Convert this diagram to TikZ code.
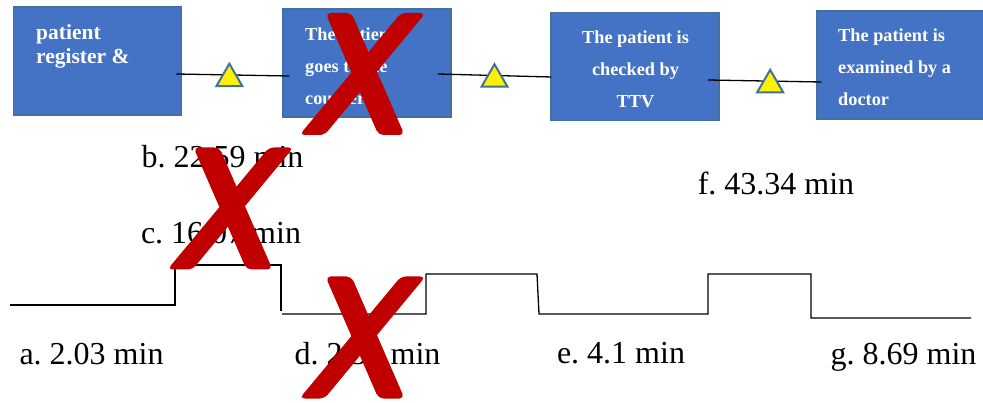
\documentclass[tikz,border=0pt]{standalone}
\usepackage{fontspec}
\setmainfont{Liberation Serif}
\usetikzlibrary{shapes.geometric}
\definecolor{boxblue}{HTML}{4472C4}
\definecolor{boxline}{HTML}{41719C}
\definecolor{xred}{HTML}{C00000}
\tikzset{
  box/.style={draw=boxline, line width=1.5pt, fill=boxblue, minimum width=168pt, minimum height=108pt, inner sep=0pt},
  boxtxt/.style={text=white, font=\fontsize{18.3}{32}\selectfont\bfseries, inner sep=0pt},
  link/.style={line width=1.3pt},
  tri/.style={regular polygon, regular polygon sides=3, draw=boxline, line width=2pt, fill=yellow, minimum size=30pt, inner sep=0pt, yshift=-3.75pt},
  stepline/.style={line width=1.3pt},
  lbl/.style={font=\fontsize{32}{38}\selectfont, inner sep=0pt, anchor=base},
}
\newcommand{\redcross}[2]{%
  \fill[xred, rounded corners=5pt, shift={(#1,#2)}] (-37,-61) -- (-11,-61) -- (42,61) -- (16,61) -- cycle;
  \fill[xred, rounded corners=5pt, shift={(#1,#2)}] (38.5,-61) -- (63,-61) -- (-38,61) -- (-63,61) -- cycle;}
\begin{document}
\begin{tikzpicture}[x=1pt, y=-1pt]
    \useasboundingbox (0,0) rectangle (983,403);

    \node[box] (b1) at (97.5,61) {};
    \node[box] (b2) at (367,63) {};
    \node[box] (b3) at (635,66.5) {};
    \node[box] (b4) at (901,65) {};

    \node[boxtxt, align=left, anchor=west, font=\fontsize{21.5}{24}\selectfont\bfseries] (t1) at (36,46) {patient\\register \&};
    \node[boxtxt, align=left, anchor=west] (t2) at (305,66) {The patient\\goes to the\\counter};
    \node[boxtxt, align=center] (t3) at (635.5,69) {The patient is\\checked by\\TTV};
    \node[boxtxt, align=left, anchor=west] (t4) at (838,67) {The patient is\\examined by a\\doctor};

    \draw[link] ([xshift=-6pt,yshift=-13pt]b1.east) -- node[tri, pos=.47] (tr1) {} ([xshift=7pt,yshift=-13pt]b2.west);
    \draw[link] ([xshift=-14pt,yshift=-11pt]b2.east) -- node[tri, pos=.5] (tr2) {} ([xshift=1pt,yshift=-10.5pt]b3.west);
    \draw[link] ([xshift=-12pt,yshift=-13.5pt]b3.east) -- node[tri, pos=.55] (tr3) {} ([xshift=5pt,yshift=-17pt]b4.west);

    \draw[stepline] (10,305) -- (175,305) -- (175,265) -- (281,265) -- (281,311);
    \draw[stepline] (282,314) -- (426,314) -- (426,274) -- (537,274) -- (539,314) -- (708,314) -- (708,274) -- (811,274) -- (811,318) -- (971,318);

    \node[lbl] (la) at (91.5,365) {a.\ 2.03 min};
    \node[lbl] (lb) at (222.5,168) {b.\ 22.59 min};
    \node[lbl] (lc) at (221,244) {c.\ 16.07 min};
    \node[lbl] (ld) at (367.5,365) {d.\ 2.35 min};
    \node[lbl] (le) at (621,363) {e.\ 4.1 min};
    \node[lbl] (lf) at (776,195) {f.\ 43.34 min};
    \node[lbl] (lg) at (903.5,365) {g.\ 8.69 min};

    \redcross{362.5}{74}
    \redcross{230.5}{208.5}
    \redcross{362.5}{337.5}
\end{tikzpicture}
\end{document}
